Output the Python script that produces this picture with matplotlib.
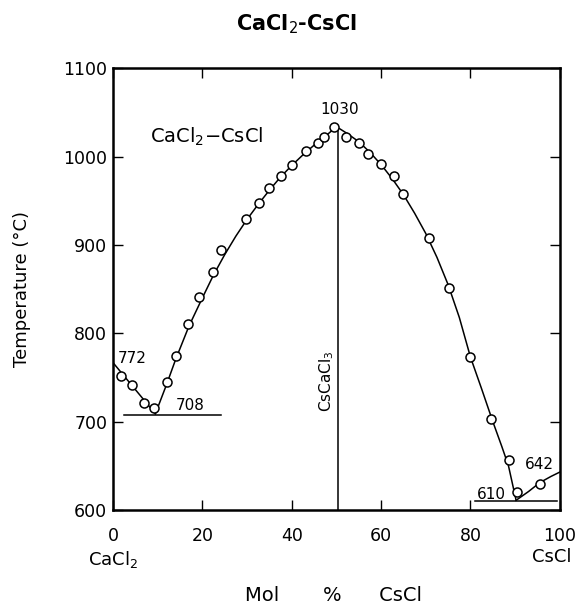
import matplotlib
matplotlib.use("Agg")
import matplotlib.pyplot as plt

# -----------------------------
# data
# -----------------------------
# measured liquidus points (open circles)
pts_x = [1.9, 4.3, 6.9, 9.1,
         12.2, 14.1, 16.9, 19.3, 22.4, 24.2, 29.7, 32.6, 35.0, 37.7, 40.1, 43.2, 45.8, 47.2, 49.4,
         52.1, 55.0, 57.0, 59.9, 62.8, 64.8, 70.7, 75.3, 79.9, 84.6, 88.7, 90.3, 95.5]
pts_t = [752, 742, 721, 715,
         745, 774, 811, 841, 870, 894, 930, 948, 965, 978, 991, 1006, 1015, 1022, 1034,
         1022, 1016, 1003, 992, 978, 958, 908, 851, 773, 703, 657, 620, 630]

# liquidus curves (hand-read vertices)
cacl2_x = [0, 9.5]
cacl2_t = [767, 709]
cmp_left_x = [9.5, 12, 14, 17, 20, 22.5, 25, 27.5, 30, 32.5, 35, 37.5, 40, 42.5, 45, 47.5, 50]
cmp_left_t = [709, 742, 770, 808, 840, 866, 889, 910, 929, 946, 962, 977, 990, 1002, 1013, 1023, 1034]
cmp_right_x = [50, 52.5, 55, 57.5, 60, 62.5, 65, 67.5, 70, 72.5, 75, 77.5, 80, 82.5, 85, 87, 88.5, 90.2]
cmp_right_t = [1034, 1026, 1017, 1005, 991, 975, 957, 936, 913, 886, 855, 818, 773, 737, 700, 672, 650, 611]
cscl_x = [90.2, 93, 95.5, 98, 100]
cscl_t = [611, 621, 631, 638, 643]

# eutectic lines and the compound line
eut1_x = [2.5, 24.2]
eut1_t = [708, 708]
eut2_x = [81, 99.3]
eut2_t = [610, 610]
comp_x = [50.3, 50.3]
comp_t = [600, 1034]

xticks = [0, 20, 40, 60, 80, 100]
yticks = [600, 700, 800, 900, 1000, 1100]

# -----------------------------
# plot
# -----------------------------
plt.rcParams["font.family"] = ["DejaVu Sans"]
fig = plt.figure(figsize=(5.79, 6.05), dpi=100)
ax = fig.add_axes([0.195, 0.157, 0.772, 0.73])

lw = 1.1
ax.plot(cacl2_x, cacl2_t, color="black", lw=lw)
ax.plot(cmp_left_x, cmp_left_t, color="black", lw=lw)
ax.plot(cmp_right_x, cmp_right_t, color="black", lw=lw)
ax.plot(cscl_x, cscl_t, color="black", lw=lw)
ax.plot(eut1_x, eut1_t, color="black", lw=lw)
ax.plot(eut2_x, eut2_t, color="black", lw=lw)
ax.plot(comp_x, comp_t, color="black", lw=lw)
ax.plot(pts_x, pts_t, "o", ms=6.5, mfc="white", mec="black", mew=1.1, zorder=5)

ax.set_xlim(0, 100)
ax.set_ylim(600, 1100)
ax.set_xticks(xticks)
ax.set_yticks(yticks)
ax.tick_params(direction="in", length=7, width=1, top=True, right=True, labelsize=12.5)
ax.tick_params(axis="x", pad=12)
ax.tick_params(axis="y", pad=4)
for s in ax.spines.values():
    s.set_linewidth(1.8)

# annotations
ax.text(1.1, 772, "772", fontsize=11, va="center", ha="left")
ax.text(17.3, 718, "708", fontsize=11, va="center", ha="center")
ax.text(84.6, 618, "610", fontsize=11, va="center", ha="center")
ax.text(95.3, 651, "642", fontsize=11, va="center", ha="center")
ax.text(50.8, 1053, "1030", fontsize=11, va="center", ha="center")
ax.text(8.3, 1023, "CaCl$_2$−CsCl", fontsize=14, va="center", ha="left")
ax.text(47.8, 746, "CsCaCl$_3$", fontsize=11, va="center", ha="center", rotation=90)

trans = ax.get_xaxis_transform()
ax.text(0, -0.112, "CaCl$_2$", fontsize=13, ha="center", va="center", transform=trans)
ax.text(98.2, -0.106, "CsCl", fontsize=13, ha="center", va="center", transform=trans)

ax.set_ylabel("Temperature (°C)", fontsize=13)
ax.yaxis.set_label_coords(-0.183, 0.5)
ax.set_xlabel("Mol       %      CsCl", fontsize=14)
ax.xaxis.set_label_coords(0.494, -0.171)

fig.text(0.513, 1 - 24 / 605, "CaCl$_2$-CsCl", fontsize=15, fontweight="bold",
         ha="center", va="center")

fig.savefig("out.png", dpi=100)
